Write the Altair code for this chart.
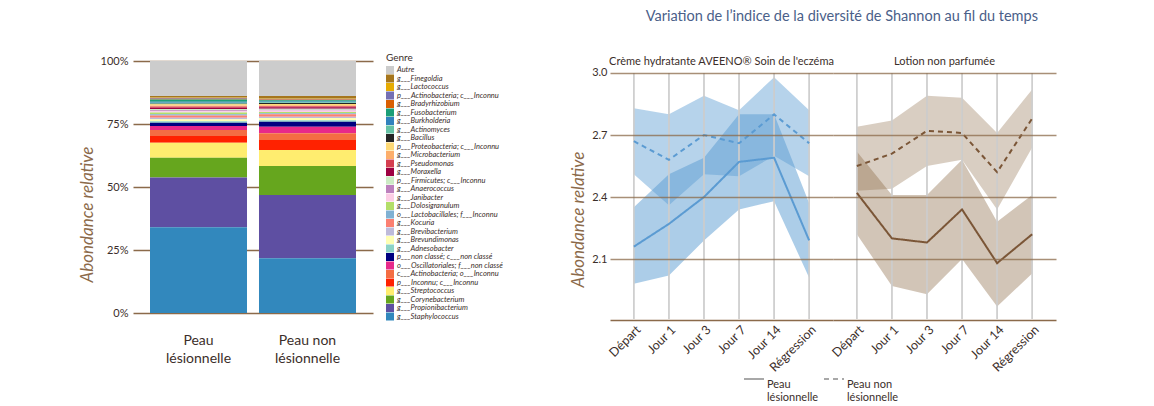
import altair as alt
import pandas as pd

# ---------------- Left chart: relative abundance by genus ----------------
echantillons = ["Peau lésionnelle", "Peau non lésionnelle"]

genres = [
    "Autre", "g___Finegoldia", "g___Lactococcus", "p___Actinobacteria; c___Inconnu",
    "g___Bradyrhizobium", "g___Fusobacterium", "g___Burkholderia", "g___Actinomyces",
    "g___Bacillus", "p___Proteobacteria; c___Inconnu", "g___Microbacterium",
    "g___Pseudomonas", "g___Moraxella", "p___Firmicutes; c___Inconnu",
    "g___Anaerococcus", "g___Janibacter", "g___Dolosigranulum",
    "o___Lactobacillales; f___Inconnu", "g___Kocuria", "g___Brevibacterium",
    "g___Brevundimonas", "g___Adnesobacter", "p___non classé; c___non classé",
    "o___Oscillatoriales; f___non classé", "c___Actinobacteria; o___Inconnu",
    "p___Inconnu; c___Inconnu", "g___Streptococcus", "g___Corynebacterium",
    "g___Propionibacterium", "g___Staphylococcus",
]
couleurs = [
    "#cccccc", "#a6761d", "#e6ab02", "#7570b3", "#d95f02", "#1b9e77", "#3182bd",
    "#66c2a5", "#252525", "#fed976", "#fdae6b", "#d53e4f", "#9e0142", "#ccebc5",
    "#bc80bd", "#fccde5", "#b3de69", "#80b1d3", "#fb8072", "#bebada", "#ffffb3",
    "#8dd3c7", "#000080", "#e7298a", "#f46d43", "#ff2200", "#ffed6f", "#66a61e",
    "#5e4fa2", "#3288bd",
]
# percentages, in legend order (Autre first)
abondance_lesionnelle = [
    13.9, 0.4, 0.3, 0.4, 0.3, 0.9, 0.4, 0.4, 0.2, 0.5, 0.4, 0.5, 0.4, 0.5, 0.4,
    0.5, 0.7, 0.5, 0.9, 0.6, 0.8, 0.6, 1.3, 1.6, 2.4, 2.6, 6.0, 7.8, 19.8, 34.0,
]
abondance_non_lesionnelle = [
    13.9, 0.8, 0.3, 0.3, 0.3, 0.5, 0.3, 0.3, 0.4, 0.5, 0.4, 0.4, 0.5, 0.4, 0.3,
    0.6, 0.5, 0.4, 1.0, 0.5, 0.9, 0.6, 2.0, 2.6, 2.6, 4.0, 6.4, 11.5, 25.1, 21.7,
]

rows = []
for vals, ech in zip([abondance_lesionnelle, abondance_non_lesionnelle], echantillons):
    for i, (g, v) in enumerate(zip(genres, vals)):
        rows.append({"echantillon": ech, "genre": g, "abondance": v / 100.0,
                     "rang": len(genres) - 1 - i})
df_bar = pd.DataFrame(rows)

# ---------------- Right chart: Shannon index over time ----------------
produits = ["Crème hydratante AVEENO® Soin de l'eczéma", "Lotion non parfumée"]
peaux = ["Peau lésionnelle", "Peau non lésionnelle"]
temps = ["Départ", "Jour 1", "Jour 3", "Jour 7", "Jour 14", "Régression"]

aveeno_les_moy = [2.16, 2.27, 2.40, 2.57, 2.59, 2.19]
aveeno_les_bas = [1.98, 2.02, 2.19, 2.34, 2.38, 2.01]
aveeno_les_haut = [2.35, 2.51, 2.59, 2.80, 2.80, 2.37]
aveeno_non_moy = [2.67, 2.58, 2.70, 2.66, 2.80, 2.66]
aveeno_non_bas = [2.51, 2.36, 2.51, 2.50, 2.60, 2.50]
aveeno_non_haut = [2.83, 2.80, 2.89, 2.82, 2.98, 2.82]

lotion_les_moy = [2.42, 2.20, 2.18, 2.34, 2.08, 2.22]
lotion_les_bas = [2.22, 1.97, 1.93, 2.10, 1.87, 2.03]
lotion_les_haut = [2.62, 2.41, 2.41, 2.58, 2.28, 2.41]
lotion_non_moy = [2.55, 2.61, 2.72, 2.71, 2.52, 2.78]
lotion_non_bas = [2.43, 2.44, 2.55, 2.58, 2.34, 2.64]
lotion_non_haut = [2.74, 2.77, 2.89, 2.88, 2.71, 2.92]

series = [
    (produits[0], peaux[0], aveeno_les_moy, aveeno_les_bas, aveeno_les_haut),
    (produits[0], peaux[1], aveeno_non_moy, aveeno_non_bas, aveeno_non_haut),
    (produits[1], peaux[0], lotion_les_moy, lotion_les_bas, lotion_les_haut),
    (produits[1], peaux[1], lotion_non_moy, lotion_non_bas, lotion_non_haut),
]
rows = []
for prod, peau, moy, bas, haut in series:
    for t, m, b, h in zip(temps, moy, bas, haut):
        rows.append({"produit": prod, "peau": peau, "serie": prod + " | " + peau,
                     "temps": t, "moyenne": m, "bas": b, "haut": h})
df_line = pd.DataFrame(rows)
serie_noms = [p + " | " + q for p in produits for q in peaux]

TXT = "#3b2e2a"
BROWN = "#8b6a4a"
FONT = "Lato"
label_expr = "split(replace(datum.label, ' lésionnelle', '|lésionnelle'), '|')"

# ---------- bar chart ----------
bars = alt.Chart(df_bar).mark_bar().encode(
    x=alt.X("echantillon:N", sort=echantillons,
            scale=alt.Scale(paddingInner=0.11, paddingOuter=0.156),
            axis=alt.Axis(title=None, labelAngle=0, domain=False, ticks=False,
                          labelPadding=20, labelFontSize=14, labelColor=TXT,
                          labelFont=FONT, labelExpr=label_expr, labelLineHeight=18)),
    y=alt.Y("abondance:Q", stack="zero", scale=alt.Scale(domain=[0, 1], nice=False),
            axis=alt.Axis(title="Abondance relative", format=".0%",
                          values=[0, 0.25, 0.5, 0.75, 1], grid=True,
                          gridColor=BROWN, gridWidth=1.5, domain=False, ticks=False,
                          labelPadding=5, labelFontSize=11, labelColor=TXT,
                          labelFont=FONT, titleFont=FONT, titleFontStyle="italic",
                          titleFontWeight="normal", titleFontSize=17,
                          titleColor=BROWN, titlePadding=4, titleY=153)),
    color=alt.Color("genre:N", scale=alt.Scale(domain=genres, range=couleurs),
                    legend=alt.Legend(title="Genre", titleFontSize=10,
                                      titleFontWeight="normal", titleColor=TXT,
                                      titleFont=FONT, titlePadding=3,
                                      labelFontSize=7.5, labelFontStyle="italic",
                                      labelColor=TXT, labelFont=FONT, labelLimit=300,
                                      symbolType="square", symbolSize=64,
                                      symbolStrokeWidth=0, rowPadding=0.5,
                                      labelOffset=3, orient="none", legendX=253,
                                      legendY=-8, symbolLimit=40)),
    order=alt.Order("rang:Q", sort="ascending"),
).properties(width=240, height=252)

# ---------- Shannon chart ----------
x_enc = alt.X("temps:N", sort=temps,
              scale=alt.Scale(type="point", padding=0.68),
              axis=alt.Axis(title=None, labelAngle=-45, labelFontSize=12.5,
                            labelColor=TXT, labelFont=FONT, ticks=False,
                            domainColor=BROWN, domainWidth=1.5, labelPadding=3,
                            grid=False))
y_dom = alt.Scale(domain=[1.81, 3.058], nice=False, zero=False)

aires = alt.Chart().mark_area(interpolate="linear").encode(
    x=x_enc,
    y=alt.Y("bas:Q", scale=y_dom,
            axis=alt.Axis(title="Abondance relative", values=[2.1, 2.4, 2.7, 3.0],
                          format=".1f", grid=True, gridColor=BROWN, gridWidth=1.5,
                          gridOpacity=0.75, domain=False, ticks=False, labelPadding=3,
                          labelFontSize=11, labelColor=TXT, labelFont=FONT,
                          titleFont=FONT, titleFontStyle="italic",
                          titleFontWeight="normal", titleFontSize=17,
                          titleColor=BROWN, titlePadding=4, titleY=158, zindex=1)),
    y2="haut:Q",
    fill=alt.Fill("serie:N", scale=alt.Scale(domain=serie_noms,
                  range=["#5a9bd2", "#5a9bd2", "#8c6a46", "#8c6a46"]), legend=None),
    fillOpacity=alt.FillOpacity("serie:N", scale=alt.Scale(domain=serie_noms,
                                range=[0.5, 0.33, 0.6, 0.3]), legend=None),
    detail="serie:N",
)

reperes = alt.Chart().mark_rule().encode(
    x=x_enc,
    y=alt.YDatum(3.0, type="quantitative"),
    y2=alt.Y2Datum(1.81),
    stroke=alt.value("#cccccc"),
    strokeWidth=alt.value(1.5),
    strokeOpacity=alt.value(0.85),
)

lignes = alt.Chart().mark_line(strokeWidth=2).encode(
    x=x_enc,
    y=alt.Y("moyenne:Q", scale=y_dom),
    stroke=alt.Stroke("produit:N", scale=alt.Scale(domain=produits,
                      range=["#5b9bd2", "#7b5637"]), legend=None),
    strokeDash=alt.StrokeDash("peau:N", scale=alt.Scale(domain=peaux,
                              range=[[1, 0], [5, 4]]),
                              legend=alt.Legend(title=None, orient="none",
                                                legendX=133, legendY=307,
                                                direction="horizontal",
                                                symbolType="stroke",
                                                symbolStrokeColor="#8c8c8c",
                                                symbolStrokeWidth=1.3,
                                                symbolSize=400, labelFontSize=11,
                                                labelColor=TXT, labelFont=FONT,
                                                labelExpr=label_expr,
                                                labelBaseline="top",
                                                labelOffset=2,
                                                columnPadding=2)),
    detail="serie:N",
)

shannon = alt.layer(aires, reperes, lignes, data=df_line).properties(
    width=223, height=258
).facet(
    column=alt.Column("produit:N", sort=produits,
                      header=alt.Header(title=None, labelFontSize=11,
                                        labelColor=TXT, labelFont=FONT,
                                        labelPadding=-6)),
    spacing=0,
).properties(
    title=alt.TitleParams("Variation de l’indice de la diversité de Shannon au fil du temps",
                          fontSize=14.5, color="#4a6089",
                          font=FONT, fontWeight="normal",
                          anchor="middle", offset=29, dx=29, dy=-3)
)

chart = alt.hconcat(bars, shannon, spacing=66).resolve_scale(
    color="independent", strokeDash="independent"
).resolve_legend(
    color="independent", strokeDash="independent"
).properties(
    padding={"left": 70, "top": 0, "right": 5, "bottom": 5}
).configure(font=FONT, view=alt.ViewConfig(strokeOpacity=0))

chart.save("out.html", embed_options={"renderer": "svg", "actions": False})
